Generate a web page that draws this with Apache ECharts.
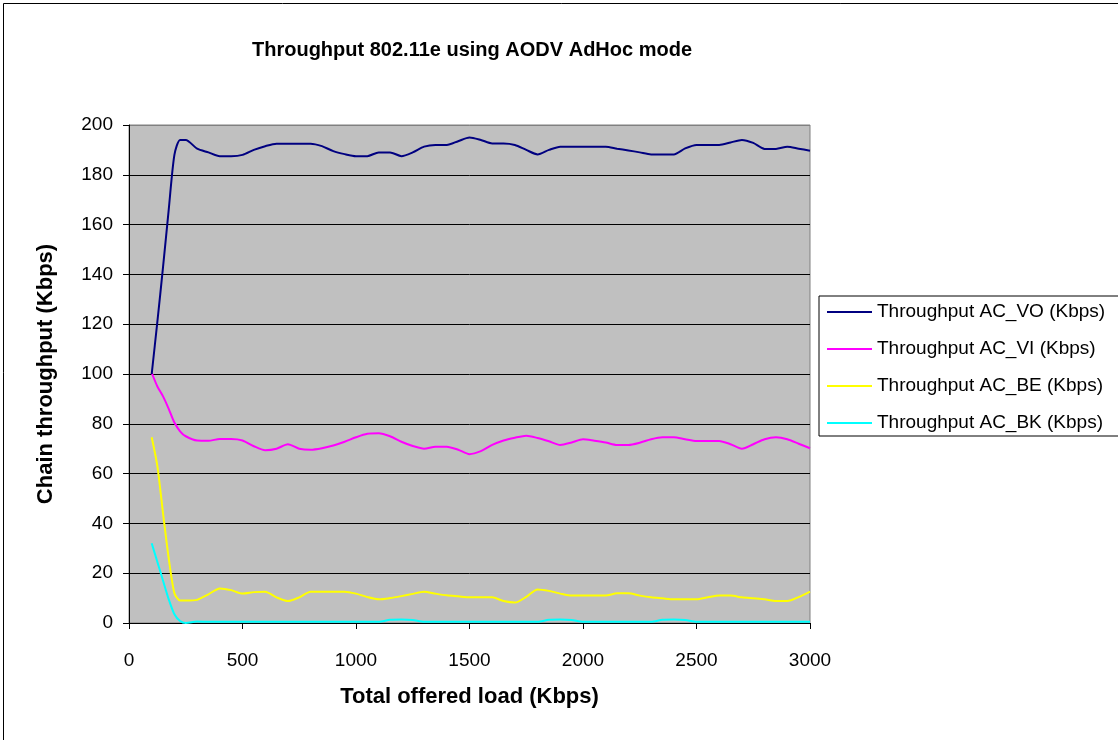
<!DOCTYPE html>
<html>
<head>
<meta charset="utf-8">
<script src="https://cdn.jsdelivr.net/npm/echarts@6/dist/echarts.min.js"></script>
<style>
  html, body { margin: 0; padding: 0; background: #fff; }
  #chart { width: 1118px; height: 740px; }
</style>
</head>
<body>
<div id="chart"></div>
<script>
// Offered load (Kbps) at each measurement
const loads = [100, 125, 150, 175, 200, 225, 250,
  300, 350, 400, 450, 500, 550, 600, 650, 700, 750, 800, 850, 900, 950,
  1000, 1050, 1100, 1150, 1200, 1250, 1300, 1350, 1400, 1450, 1500, 1550, 1600, 1650, 1700, 1750, 1800, 1850, 1900, 1950,
  2000, 2050, 2100, 2150, 2200, 2250, 2300, 2350, 2400, 2450, 2500, 2550, 2600, 2650, 2700, 2750, 2800, 2850, 2900, 2950, 3000];

// Throughput per access category (Kbps)
const acVO = [100, 121, 143, 166, 188, 194, 194,
  190.5, 189, 187.5, 187.5, 188, 190, 191.5, 192.5, 192.5, 192.5, 192.5, 191.5, 189.5, 188.3,
  187.5, 187.5, 189, 189, 187.5, 189, 191.3, 192, 192, 193.5, 195, 194, 192.6, 192.6, 192, 190, 188.2, 190, 191.3, 191.3,
  191.3, 191.3, 191.3, 190.5, 189.8, 189, 188.2, 188.2, 188.2, 190.6, 192, 192, 192, 193, 194, 192.8, 190.4, 190.4, 191.3, 190.5, 189.7];

const acVI = [100.5, 95, 91, 86, 80.5, 77, 75,
  73.3, 73.2, 73.9, 73.9, 73.3, 71, 69.4, 70, 71.8, 70, 69.6, 70.2, 71.3, 72.8,
  74.6, 76, 76.2, 75, 72.8, 71.1, 70, 70.8, 70.8, 69.6, 67.8, 69, 71.5, 73.3, 74.4, 75.2, 74.3, 73, 71.5, 72.5,
  73.8, 73.2, 72.5, 71.5, 71.5, 72.4, 73.8, 74.6, 74.6, 73.8, 73.1, 73.1, 73.1, 71.8, 70, 71.8, 73.8, 74.6, 73.8, 72, 70.2];

const acBE = [74.6, 63, 44, 26, 12, 9, 9,
  9.3, 11.5, 13.9, 13.2, 11.8, 12.4, 12.6, 10.3, 8.8, 10.3, 12.6, 12.6, 12.6, 12.6,
  11.8, 10.4, 9.5, 10, 10.8, 11.7, 12.6, 11.8, 11.1, 10.7, 10.3, 10.3, 10.3, 8.8, 8.2, 10.5, 13.5, 12.9, 11.8, 11,
  11, 11, 11, 11.9, 11.9, 11, 10.3, 9.9, 9.5, 9.5, 9.5, 10.3, 11, 11, 10.3, 9.9, 9.5, 8.8, 8.8, 10.4, 12.6];

const acBK = [32, 24.5, 17, 9.5, 3.5, 0.8, 0,
  0.6, 0.5, 0.5, 0.5, 0.5, 0.5, 0.5, 0.5, 0.5, 0.5, 0.5, 0.5, 0.5, 0.5,
  0.5, 0.5, 0.5, 1.3, 1.4, 1.2, 0.5, 0.5, 0.5, 0.5, 0.5, 0.5, 0.5, 0.5, 0.5, 0.5, 0.5, 1.3, 1.4, 1.2,
  0.5, 0.5, 0.5, 0.5, 0.5, 0.5, 0.5, 1.3, 1.4, 1.2, 0.5, 0.5, 0.5, 0.5, 0.5, 0.5, 0.5, 0.5, 0.5, 0.5, 0.5];

const seriesNames = ['Throughput AC_VO (Kbps)', 'Throughput AC_VI (Kbps)', 'Throughput AC_BE (Kbps)', 'Throughput AC_BK (Kbps)'];
const seriesColors = ['#000080', '#FF00FF', '#FFFF00', '#00FFFF'];
const seriesValues = [acVO, acVI, acBE, acBK];

const FONT = "'Liberation Sans', Arial, sans-serif";

const chart = echarts.init(document.getElementById('chart'), null, { renderer: 'canvas' });

const pairs = vals => loads.map((x, i) => [x, vals[i]]);

// grid lines black, except the top edge which belongs to the grey plot frame
const splitColors = [];
for (let i = 0; i <= 10; i++) splitColors.push(i === 10 ? '#808080' : '#000000');

chart.setOption({
  animation: false,
  backgroundColor: '#ffffff',
  textStyle: { fontFamily: FONT },
  title: {
    text: 'Throughput 802.11e using AODV AdHoc mode',
    left: 467,
    top: 35,
    textAlign: 'center',
    textStyle: { fontFamily: FONT, fontSize: 20, fontWeight: 'bold', color: '#000' }
  },
  graphic: [{
    type: 'rect',
    shape: { x: 3.5, y: 3.5, width: 1130, height: 750 },
    style: { fill: null, stroke: '#000', lineWidth: 1 },
    silent: true,
    z: -1
  }],
  legend: {
    orient: 'vertical',
    left: 819,
    top: 296,
    width: 300,
    padding: [5, 16, 2, 8],
    itemGap: 15,
    itemWidth: 45,
    itemHeight: 2,
    icon: 'rect',
    backgroundColor: '#ffffff',
    borderColor: '#000',
    borderWidth: 1,
    borderRadius: 0,
    textStyle: { fontFamily: FONT, fontSize: 19, color: '#000', lineHeight: 22 },
    data: seriesNames
  },
  grid: {
    left: 129,
    top: 125,
    right: 308,
    bottom: 117,
    show: true,
    backgroundColor: '#C0C0C0',
    borderColor: '#808080',
    borderWidth: 1
  },
  xAxis: {
    type: 'value',
    min: 0,
    max: 3000,
    interval: 500,
    name: 'Total offered load (Kbps)',
    nameLocation: 'middle',
    nameGap: 63,
    nameTextStyle: { fontFamily: FONT, fontSize: 22, fontWeight: 'bold', color: '#000' },
    axisLine: { show: true, lineStyle: { color: '#000', width: 1 } },
    axisTick: { show: true, inside: false, length: 6, lineStyle: { color: '#000' } },
    axisLabel: { margin: 28, fontFamily: FONT, fontSize: 19, color: '#000', formatter: v => String(v) },
    splitLine: { show: false }
  },
  yAxis: {
    type: 'value',
    min: 0,
    max: 200,
    interval: 20,
    name: 'Chain throughput (Kbps)',
    nameLocation: 'middle',
    nameGap: 72,
    nameTextStyle: { fontFamily: FONT, fontSize: 22, fontWeight: 'bold', color: '#000' },
    axisLine: { show: true, lineStyle: { color: '#000', width: 1 } },
    axisTick: { show: true, inside: false, length: 6, lineStyle: { color: '#000' } },
    axisLabel: { margin: 16, fontFamily: FONT, fontSize: 19, color: '#000', formatter: v => String(v) },
    splitLine: { show: true, lineStyle: { color: splitColors, width: 1 } }
  },
  series: seriesNames.map((name, i) => ({
    name: name,
    type: 'line',
    data: pairs(seriesValues[i]),
    smooth: 0.25,
    symbol: 'none',
    showSymbol: false,
    color: seriesColors[i],
    lineStyle: { color: seriesColors[i], width: 2 },
    z: 10 - i
  }))
});
</script>
</body>
</html>
